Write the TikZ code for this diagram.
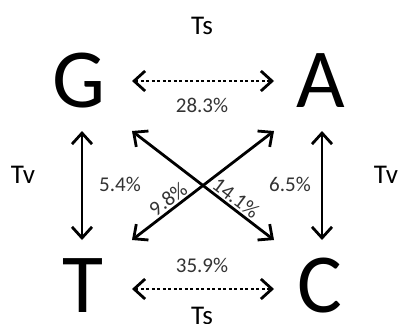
\documentclass[tikz,border=0pt]{standalone}
\usepackage{fontspec}
\setmainfont{Carlito}
\usetikzlibrary{arrows.meta}
\begin{document}
\begin{tikzpicture}[x=1pt,y=-1pt,
  base/.style={inner sep=0pt,outer sep=0pt},
  letter/.style={base,anchor=base,font=\fontsize{84}{84}\selectfont},
  lab/.style={base,font=\fontsize{27}{27}\selectfont},
  pct/.style={base,font=\fontsize{21}{21}\selectfont,text=black!80},
  arr/.style={line width=2.8pt,{Straight Barb[length=11pt,width=20pt,line width=2.8pt]}-{Straight Barb[length=11pt,width=20pt,line width=2.8pt]}},
  darr/.style={arr,dash pattern=on 3pt off 2.5pt}]
\useasboundingbox (0,0) rectangle (402,324);
\node[letter] (G) at (79,107) {G};
\node[letter] (A) at (321,107) {A};
\node[letter] (T) at (83,312) {T};
\node[letter] (C) at (320,312) {C};
\coordinate (gaL) at (132,81);
\coordinate (gaR) at (274,81);
\coordinate (tcL) at (132,289);
\coordinate (tcR) at (274,289);
\coordinate (gtU) at (82,131);
\coordinate (gtD) at (82,240);
\coordinate (acU) at (322,131);
\coordinate (acD) at (322,240);
\coordinate (d1a) at (132,131);
\coordinate (d1b) at (274,240);
\coordinate (d2a) at (274,131);
\coordinate (d2b) at (132,240);
\draw[darr] (gaL) -- (gaR);
\draw[darr] (tcL) -- (tcR);
\draw[arr] (gtU) -- (gtD);
\draw[arr] (acU) -- (acD);
\draw[arr] (d1a) -- (d1b);
\draw[arr] (d2a) -- (d2b);
\node[lab] (ts1) at (202,26) {Ts};
\node[lab] (ts2) at (202,316) {Ts};
\node[lab] (tv1) at (23,175) {Tv};
\node[lab] (tv2) at (386,175) {Tv};
\node[pct] (p1) at (202,105) {28.3\%};
\node[pct] (p2) at (202,265) {35.9\%};
\node[pct] (p3) at (120,184) {5.4\%};
\node[pct] (p4) at (290,184) {6.5\%};
\node[pct,rotate=37] (p5) at (168,199) {9.8\%};
\node[pct,rotate=-37] (p6) at (236,198) {14.1\%};
\end{tikzpicture}
\end{document}
